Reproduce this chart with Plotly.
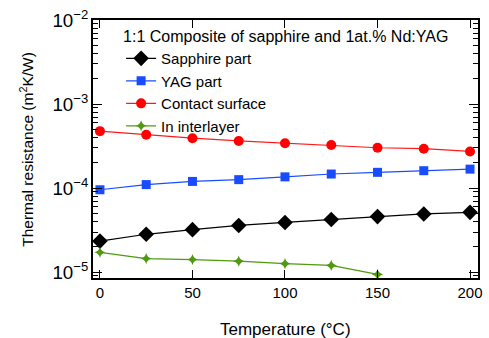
import plotly.graph_objects as go

temperature = [0, 25, 50, 75, 100, 125, 150, 175, 200]
sapphire = [2.34e-5, 2.82e-5, 3.20e-5, 3.59e-5, 3.90e-5, 4.23e-5, 4.58e-5, 4.92e-5, 5.14e-5]
yag = [9.55e-5, 1.10e-4, 1.20e-4, 1.26e-4, 1.36e-4, 1.47e-4, 1.54e-4, 1.61e-4, 1.68e-4]
contact = [4.76e-4, 4.31e-4, 3.92e-4, 3.64e-4, 3.42e-4, 3.25e-4, 3.02e-4, 2.94e-4, 2.73e-4]
temperature_in = [0, 25, 50, 75, 100, 125, 150]
interlayer = [1.72e-5, 1.45e-5, 1.41e-5, 1.35e-5, 1.26e-5, 1.20e-5, 9.4e-6]

FONT = "Liberation Sans, Arial, sans-serif"

fig = go.Figure()
fig.add_trace(go.Scatter(x=temperature, y=sapphire, name="Sapphire part", mode="lines+markers",
                         line=dict(color="black", width=1.2),
                         marker=dict(symbol="diamond", size=12, color="black")))
fig.add_trace(go.Scatter(x=temperature, y=yag, name="YAG part", mode="lines+markers",
                         line=dict(color="#1a4cff", width=1.2),
                         marker=dict(symbol="square", size=9, color="#1a4cff")))
fig.add_trace(go.Scatter(x=temperature, y=contact, name="Contact surface", mode="lines+markers",
                         line=dict(color="#ff1a1a", width=1.2),
                         marker=dict(symbol="circle", size=10, color="#ff0000")))
fig.add_trace(go.Scatter(x=temperature_in, y=interlayer, name="In interlayer", mode="lines+markers",
                         line=dict(color="#4f9a10", width=1.2),
                         marker=dict(symbol="star-diamond", size=8, color="#4f9a10")))

fig.update_layout(
    width=489, height=338,
    margin=dict(l=93, r=7, t=18, b=60),
    paper_bgcolor="white", plot_bgcolor="white",
    font=dict(family=FONT, size=15, color="black"),
    showlegend=True,
    legend=dict(
        title=dict(text="1:1 Composite of sapphire and 1at.% Nd:YAG", font=dict(size=16)),
        x=0.073, y=0.995, xanchor="left", yanchor="top",
        bgcolor="rgba(0,0,0,0)", font=dict(size=15), tracegroupgap=0,
    ),
    xaxis=dict(
        range=[-3.75, 204.3], tickvals=[0, 50, 100, 150, 200],
        ticks="inside", ticklen=8, tickwidth=1, tickcolor="black",
        showline=True, linecolor="black", linewidth=1.5, mirror="ticks",
        showgrid=False, zeroline=False, tickfont=dict(size=15),
    ),
    yaxis=dict(
        type="log", range=[-5.07, -2.0], dtick=1, exponentformat="power",
        ticks="inside", ticklen=9, tickwidth=1, tickcolor="black",
        minor=dict(ticks="inside", ticklen=5, tickcolor="black", dtick="D1", showgrid=False),
        showline=True, linecolor="black", linewidth=1.5, mirror="ticks",
        showgrid=False, zeroline=False, tickfont=dict(size=15),
    ),
    annotations=[
        dict(text="Temperature (°C)", x=0.5, y=-0.2, xref="paper", yref="paper",
             xanchor="center", yanchor="middle", showarrow=False, font=dict(size=17)),
        dict(text="Thermal resistance (m<sup>2</sup>K/W)", x=-0.172, y=0.5, xref="paper", yref="paper",
             xanchor="center", yanchor="middle", showarrow=False, textangle=-90, font=dict(size=15.5)),
    ],
)

fig.write_html("out.html", config={"displayModeBar": False},
               post_script="document.body.style.margin='0px';")
